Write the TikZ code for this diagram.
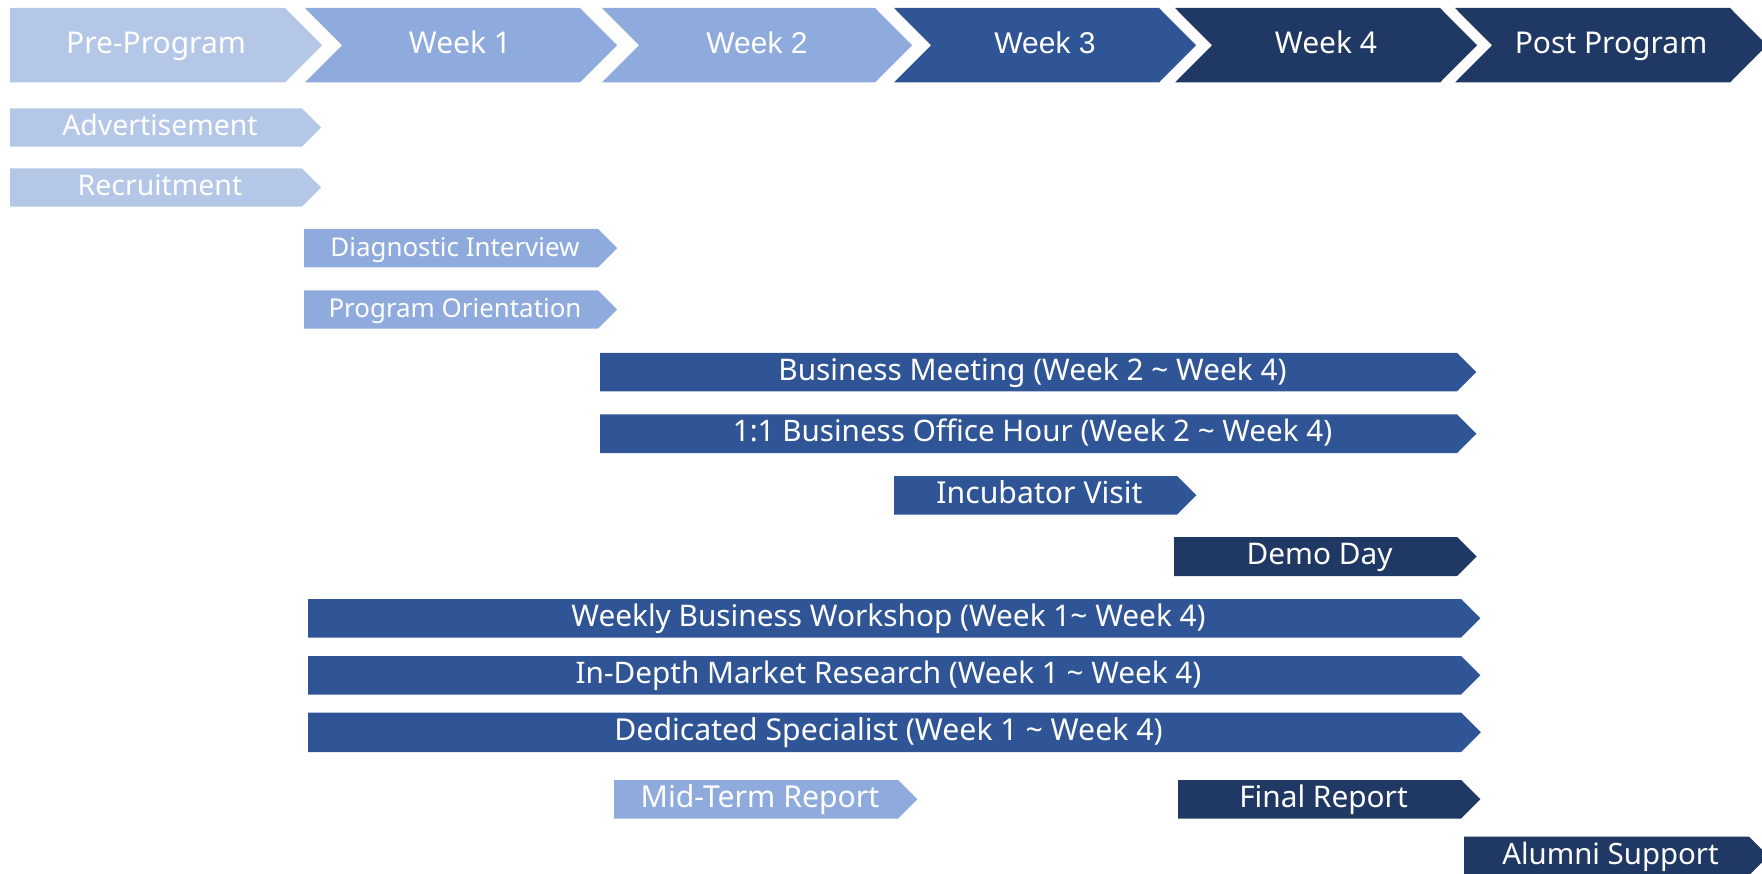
\documentclass[tikz,border=0pt]{standalone}
\usepackage{fontspec}
\setmainfont{Noto Sans}
\newfontfamily\arialf{Liberation Sans}
\definecolor{cLight}{HTML}{B4C7E7}
\definecolor{cMid}{HTML}{8FAADC}
\definecolor{cBlue}{HTML}{2F5597}
\definecolor{cDark}{HTML}{203864}
\tikzset{
  hdrtext/.style={text=white, font=\fontsize{30}{34}\selectfont, inner sep=0pt, anchor=base},
  rowtext/.style={text=white, inner sep=0pt, anchor=base},
}
% header chevron: L, R, notch depth, colour, name, text, text x
\newcommand\hdrchev[7]{%
  \fill[#4] (#1,8) -- (#2,8) -- ({#2+37},45.25) -- (#2,82.5) -- (#1,82.5) -- ({#1+#3},45.25) -- cycle;
  \node[hdrtext] (#5) at (#7,53.7) {#6};
}
% row bar: L, R, top, bottom, colour, name, text, font size
\newcommand\rowbar[8]{%
  \fill[#5] (#1,#3) -- (#2,#3) -- ({#2+(#4-#3)/2},{(#3+#4)/2}) -- (#2,#4) -- (#1,#4) -- cycle;
  \node[rowtext, font=\fontsize{#8}{32}\selectfont] (#6) at ({(#1+#2)/2+4},{(#3+#4)/2+8}) {#7};
}
\begin{document}
\begin{tikzpicture}[x=1pt,y=-1pt]
\useasboundingbox (0,0) rectangle (1762,874);
% header
\hdrchev{10}{285}{0}{cLight}{pre}{Pre-Program}{156}
\hdrchev{305}{580}{37}{cMid}{w1}{Week 1}{460}
\hdrchev{602}{875}{37}{cMid}{w2}{\arialf Week 2}{757}
\hdrchev{894}{1159}{37}{cBlue}{w3}{\arialf Week 3}{1045}
\hdrchev{1175}{1440}{37}{cDark}{w4}{Week 4}{1326}
\hdrchev{1455}{1730}{37}{cDark}{post}{Post Program}{1611}
% rows
\rowbar{10}{302}{108.3}{146.7}{cLight}{adv}{Advertisement}{28.4}
\rowbar{10}{302}{168.3}{206.7}{cLight}{rec}{Recruitment}{28.4}
\rowbar{304}{598}{229}{267.3}{cMid}{diag}{Diagnostic Interview}{25.9}
\rowbar{304}{598}{290.3}{328.7}{cMid}{orient}{Program Orientation}{25.9}
\rowbar{600}{1457}{353}{391.4}{cBlue}{meet}{Business Meeting (Week 2 \textasciitilde{} Week 4)}{29.8}
\rowbar{600}{1457}{414.3}{453}{cBlue}{office}{1:1 Business Office Hour (Week 2 \textasciitilde{} Week 4)}{29.6}
\rowbar{894}{1177}{476}{514.7}{cBlue}{incub}{Incubator Visit}{30.2}
\rowbar{1174}{1457}{537}{576}{cDark}{demo}{Demo Day}{29.8}
\rowbar{308}{1461}{599}{637.5}{cBlue}{workshop}{Weekly Business Workshop (Week 1\textasciitilde{} Week 4)}{29.8}
\rowbar{308}{1461}{656}{694.5}{cBlue}{research}{In-Depth Market Research (Week 1 \textasciitilde{} Week 4)}{29.7}
\rowbar{308}{1461}{712.5}{752}{cBlue}{special}{Dedicated Specialist (Week 1 \textasciitilde{} Week 4)}{30.2}
\rowbar{614}{898}{780}{818.5}{cMid}{mid}{Mid-Term Report}{30.2}
\rowbar{1178}{1461}{780}{818.5}{cDark}{final}{Final Report}{29.8}
\rowbar{1464}{1749}{836.7}{875.3}{cDark}{alumni}{Alumni Support}{29.4}
\end{tikzpicture}
\end{document}
